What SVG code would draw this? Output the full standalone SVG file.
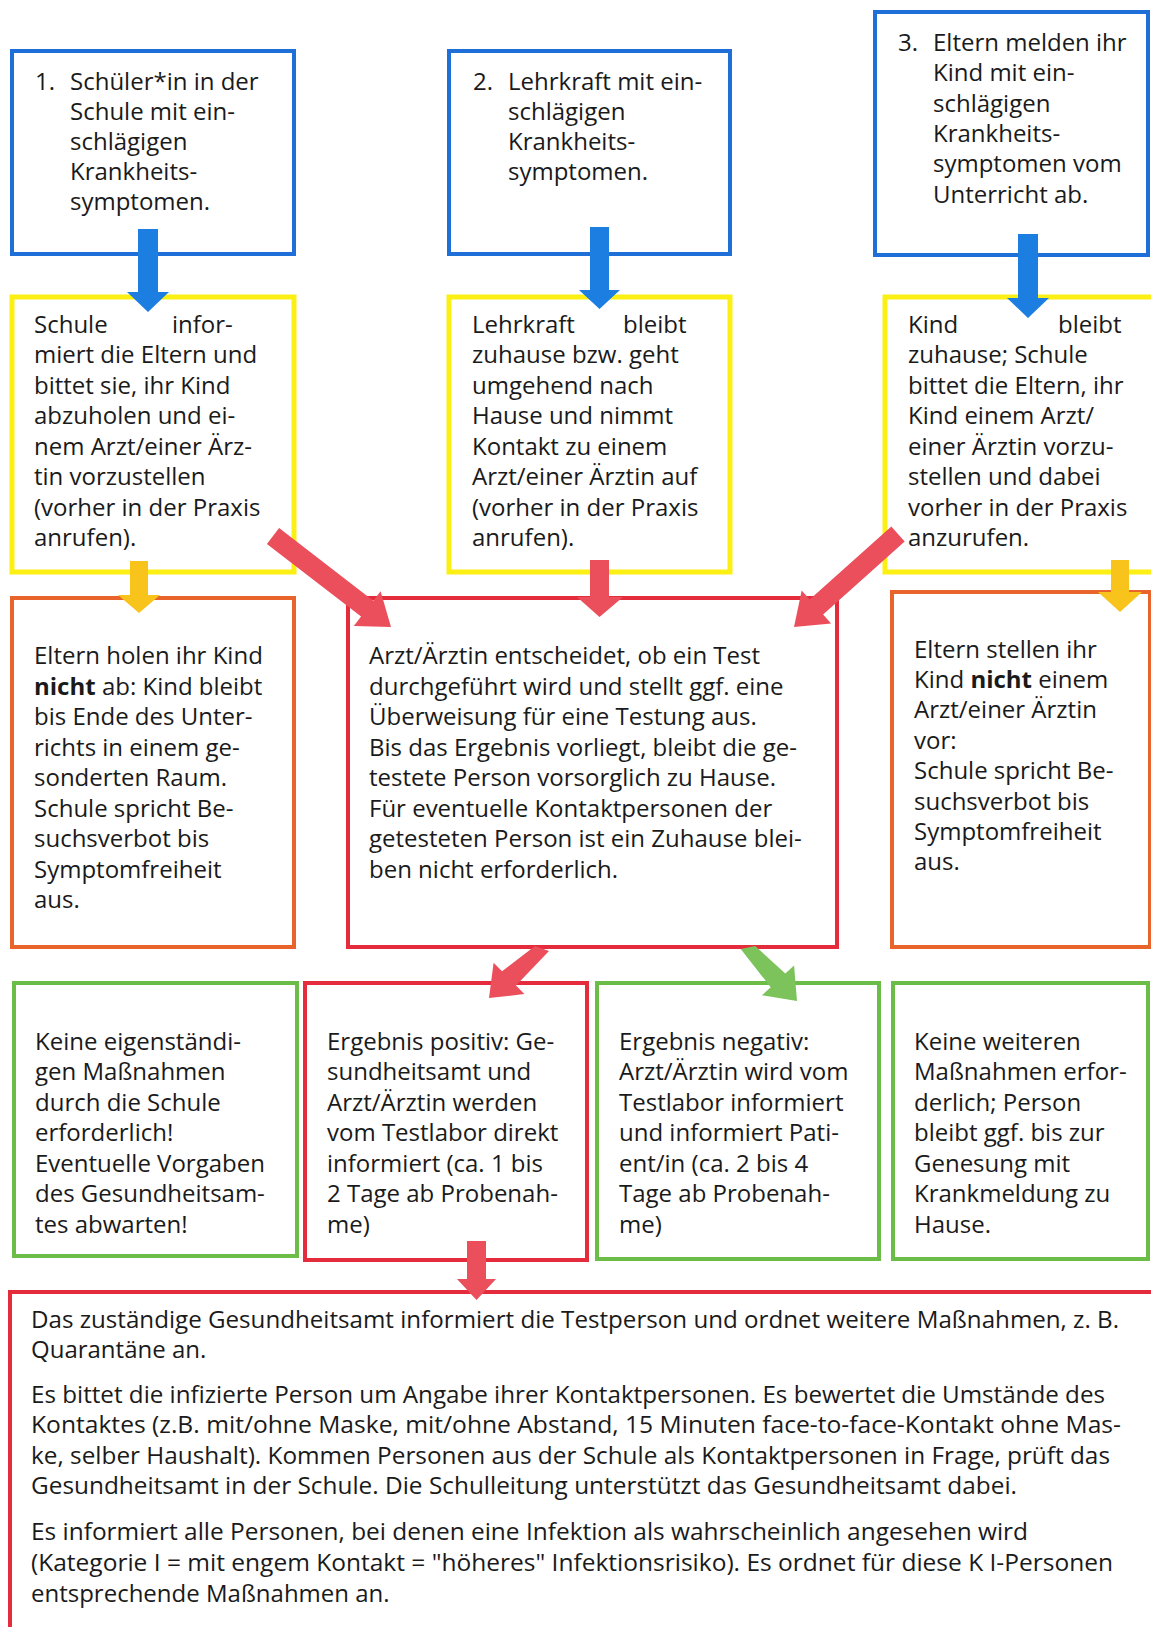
<svg xmlns="http://www.w3.org/2000/svg" width="1151" height="1627" viewBox="0 0 1151 1627">
<style>
  .box { fill: #ffffff; stroke-width: 4; }
  .blue { stroke: #1f6fd8; }
  .yellow { stroke: #fbef14; stroke-width: 5; }
  .orange { stroke: #e8642a; }
  .red { stroke: #e42c3c; }
  .green { stroke: #6cbd48; }
  text { font-family: "Open Sans", "Noto Sans", "Liberation Sans", sans-serif; font-size: 24px; fill: #1a1a1a; }
  .bold { font-weight: bold; }
  .a-blue { fill: #1c7ee0; }
  .a-yellow { fill: #f8c41c; }
  .a-red { fill: #ea4f5b; }
  .a-green { fill: #7cc35c; }
</style>
<rect width="1151" height="1627" fill="#ffffff"/>

<g id="node-1">
  <rect class="box blue" x="12" y="51" width="282" height="203"/>
  <text x="35" y="90">1.</text>
  <text x="70" y="90">Schüler*in in der</text>
  <text x="70" y="120">Schule mit ein-</text>
  <text x="70" y="150">schlägigen</text>
  <text x="70" y="180">Krankheits-</text>
  <text x="70" y="210">symptomen.</text>
</g>
<g id="node-2">
  <rect class="box blue" x="449" y="51" width="281" height="203"/>
  <text x="473" y="90">2.</text>
  <text x="508" y="90">Lehrkraft mit ein-</text>
  <text x="508" y="120">schlägigen</text>
  <text x="508" y="150">Krankheits-</text>
  <text x="508" y="180">symptomen.</text>
</g>
<g id="node-3">
  <rect class="box blue" x="875" y="12" width="273" height="243"/>
  <text x="898" y="51">3.</text>
  <text x="933" y="51">Eltern melden ihr</text>
  <text x="933" y="81">Kind mit ein-</text>
  <text x="933" y="112">schlägigen</text>
  <text x="933" y="142">Krankheits-</text>
  <text x="933" y="172">symptomen vom</text>
  <text x="933" y="203">Unterricht ab.</text>
</g>

<g id="node-schule-informiert">
  <rect class="box yellow" x="12" y="297" width="282" height="275"/>
  <text x="34" y="333">Schule</text>
  <text x="172" y="333">infor-</text>
  <text x="34" y="363">miert die Eltern und</text>
  <text x="34" y="394">bittet sie, ihr Kind</text>
  <text x="34" y="424">abzuholen und ei-</text>
  <text x="34" y="455">nem Arzt/einer Ärz-</text>
  <text x="34" y="485">tin vorzustellen</text>
  <text x="34" y="516">(vorher in der Praxis</text>
  <text x="34" y="546">anrufen).</text>
</g>
<g id="node-lehrkraft-zuhause">
  <rect class="box yellow" x="449" y="297" width="281" height="275"/>
  <text x="472" y="333">Lehrkraft</text>
  <text x="623" y="333">bleibt</text>
  <text x="472" y="363">zuhause bzw. geht</text>
  <text x="472" y="394">umgehend nach</text>
  <text x="472" y="424">Hause und nimmt</text>
  <text x="472" y="455">Kontakt zu einem</text>
  <text x="472" y="485">Arzt/einer Ärztin auf</text>
  <text x="472" y="516">(vorher in der Praxis</text>
  <text x="472" y="546">anrufen).</text>
</g>
<g id="node-kind-zuhause">
  <rect class="box yellow" x="885" y="297" width="272" height="275"/>
  <text x="908" y="333">Kind</text>
  <text x="1058" y="333">bleibt</text>
  <text x="908" y="363">zuhause; Schule</text>
  <text x="908" y="394">bittet die Eltern, ihr</text>
  <text x="908" y="424">Kind einem Arzt/</text>
  <text x="908" y="455">einer Ärztin vorzu-</text>
  <text x="908" y="485">stellen und dabei</text>
  <text x="908" y="516">vorher in der Praxis</text>
  <text x="908" y="546">anzurufen.</text>
</g>

<g id="node-eltern-holen-nicht">
  <rect class="box orange" x="12" y="598" width="282" height="349"/>
  <text x="34" y="664">Eltern holen ihr Kind</text>
  <text x="34" y="695"><tspan class="bold">nicht</tspan> ab: Kind bleibt</text>
  <text x="34" y="725">bis Ende des Unter-</text>
  <text x="34" y="756">richts in einem ge-</text>
  <text x="34" y="786">sonderten Raum.</text>
  <text x="34" y="817">Schule spricht Be-</text>
  <text x="34" y="847">suchsverbot bis</text>
  <text x="34" y="878">Symptomfreiheit</text>
  <text x="34" y="908">aus.</text>
</g>
<g id="node-arzt-entscheidet">
  <rect class="box red" x="348" y="598" width="489" height="349"/>
  <text x="369" y="664">Arzt/Ärztin entscheidet, ob ein Test</text>
  <text x="369" y="695">durchgeführt wird und stellt ggf. eine</text>
  <text x="369" y="725">Überweisung für eine Testung aus.</text>
  <text x="369" y="756">Bis das Ergebnis vorliegt, bleibt die ge-</text>
  <text x="369" y="786">testete Person vorsorglich zu Hause.</text>
  <text x="369" y="817">Für eventuelle Kontaktpersonen der</text>
  <text x="369" y="847">getesteten Person ist ein Zuhause blei-</text>
  <text x="369" y="878">ben nicht erforderlich.</text>
</g>
<g id="node-eltern-stellen-nicht">
  <rect class="box orange" x="892" y="592" width="258" height="355"/>
  <text x="914" y="658">Eltern stellen ihr</text>
  <text x="914" y="688">Kind <tspan class="bold">nicht</tspan> einem</text>
  <text x="914" y="718">Arzt/einer Ärztin</text>
  <text x="914" y="749">vor:</text>
  <text x="914" y="779">Schule spricht Be-</text>
  <text x="914" y="810">suchsverbot bis</text>
  <text x="914" y="840">Symptomfreiheit</text>
  <text x="914" y="870">aus.</text>
</g>

<g id="node-keine-eigenstaendigen">
  <rect class="box green" x="14" y="983" width="283" height="273"/>
  <text x="35" y="1050">Keine eigenständi-</text>
  <text x="35" y="1080">gen Maßnahmen</text>
  <text x="35" y="1111">durch die Schule</text>
  <text x="35" y="1141">erforderlich!</text>
  <text x="35" y="1172">Eventuelle Vorgaben</text>
  <text x="35" y="1202">des Gesundheitsam-</text>
  <text x="35" y="1233">tes abwarten!</text>
</g>
<g id="node-positiv">
  <rect class="box red" x="305" y="983" width="282" height="277"/>
  <text x="327" y="1050">Ergebnis positiv: Ge-</text>
  <text x="327" y="1080">sundheitsamt und</text>
  <text x="327" y="1111">Arzt/Ärztin werden</text>
  <text x="327" y="1141">vom Testlabor direkt</text>
  <text x="327" y="1172">informiert (ca. 1 bis</text>
  <text x="327" y="1202">2 Tage ab Probenah-</text>
  <text x="327" y="1233">me)</text>
</g>
<g id="node-negativ">
  <rect class="box green" x="597" y="983" width="282" height="276"/>
  <text x="619" y="1050">Ergebnis negativ:</text>
  <text x="619" y="1080">Arzt/Ärztin wird vom</text>
  <text x="619" y="1111">Testlabor informiert</text>
  <text x="619" y="1141">und informiert Pati-</text>
  <text x="619" y="1172">ent/in (ca. 2 bis 4</text>
  <text x="619" y="1202">Tage ab Probenah-</text>
  <text x="619" y="1233">me)</text>
</g>
<g id="node-keine-weiteren">
  <rect class="box green" x="893" y="983" width="255" height="276"/>
  <text x="914" y="1050">Keine weiteren</text>
  <text x="914" y="1080">Maßnahmen erfor-</text>
  <text x="914" y="1111">derlich; Person</text>
  <text x="914" y="1141">bleibt ggf. bis zur</text>
  <text x="914" y="1172">Genesung mit</text>
  <text x="914" y="1202">Krankmeldung zu</text>
  <text x="914" y="1233">Hause.</text>
</g>

<g id="node-gesundheitsamt">
  <rect class="box red" x="10" y="1292" width="1160" height="400"/>
  <text x="31" y="1328" textLength="1088" lengthAdjust="spacingAndGlyphs">Das zuständige Gesundheitsamt informiert die Testperson und ordnet weitere Maßnahmen, z. B.</text>
  <text x="31" y="1358">Quarantäne an.</text>
  <text x="31" y="1403" textLength="1074" lengthAdjust="spacingAndGlyphs">Es bittet die infizierte Person um Angabe ihrer Kontaktpersonen. Es bewertet die Umstände des</text>
  <text x="31" y="1433" textLength="1090" lengthAdjust="spacingAndGlyphs">Kontaktes (z.B. mit/ohne Maske, mit/ohne Abstand, 15 Minuten face-to-face-Kontakt ohne Mas-</text>
  <text x="31" y="1464" textLength="1079" lengthAdjust="spacingAndGlyphs">ke, selber Haushalt). Kommen Personen aus der Schule als Kontaktpersonen in Frage, prüft das</text>
  <text x="31" y="1494" textLength="986" lengthAdjust="spacingAndGlyphs">Gesundheitsamt in der Schule. Die Schulleitung unterstützt das Gesundheitsamt dabei.</text>
  <text x="31" y="1540" textLength="997" lengthAdjust="spacingAndGlyphs">Es informiert alle Personen, bei denen eine Infektion als wahrscheinlich angesehen wird</text>
  <text x="31" y="1571" textLength="1082" lengthAdjust="spacingAndGlyphs">(Kategorie I = mit engem Kontakt = "höheres" Infektionsrisiko). Es ordnet für diese K I-Personen</text>
  <text x="31" y="1602">entsprechende Maßnahmen an.</text>
</g>

<g id="connectors">
  <polygon class="a-blue" points="138,229 158,229 158,292 169,292 148,312 127,292 138,292"/>
  <polygon class="a-blue" points="590,227 609,227 609,290 620,290 599.5,309 579,290 590,290"/>
  <polygon class="a-blue" points="1018,234 1038,234 1038,298 1049,298 1028,318 1007,298 1018,298"/>
  <polygon class="a-yellow" points="130,561 148,561 148,595 160,595 139,613 118,595 130,595"/>
  <polygon class="a-yellow" points="1111,560 1129,560 1129,592 1142,592 1120,612 1098,592 1111,592"/>
  <polygon class="a-red" points="590,560 609,560 609,597 623,597 599.5,617 577,597 590,597"/>
  <polygon class="a-red" points="279.1,528.1 373.3,600.8 380.6,591.3 391,627 353.8,626.1 361.1,616.6 266.9,543.9"/>
  <polygon class="a-red" points="891.3,526.5 809.7,599.5 801.7,590.6 794,627 831.1,623.4 823.1,614.5 904.7,541.5"/>
  <polygon class="a-red" points="535,946 502,971.3 493.6,962.7 489,998 524.4,994.1 516,985.5 549,951"/>
  <polygon class="a-green" points="755.3,946 785.3,973.6 794.1,965.5 797,1001 761.9,995.3 770.7,987.2 740.7,949"/>
  <polygon class="a-red" points="467,1241 486,1241 486,1279 496,1279 476.5,1300 457,1279 467,1279"/>
</g>
</svg>
